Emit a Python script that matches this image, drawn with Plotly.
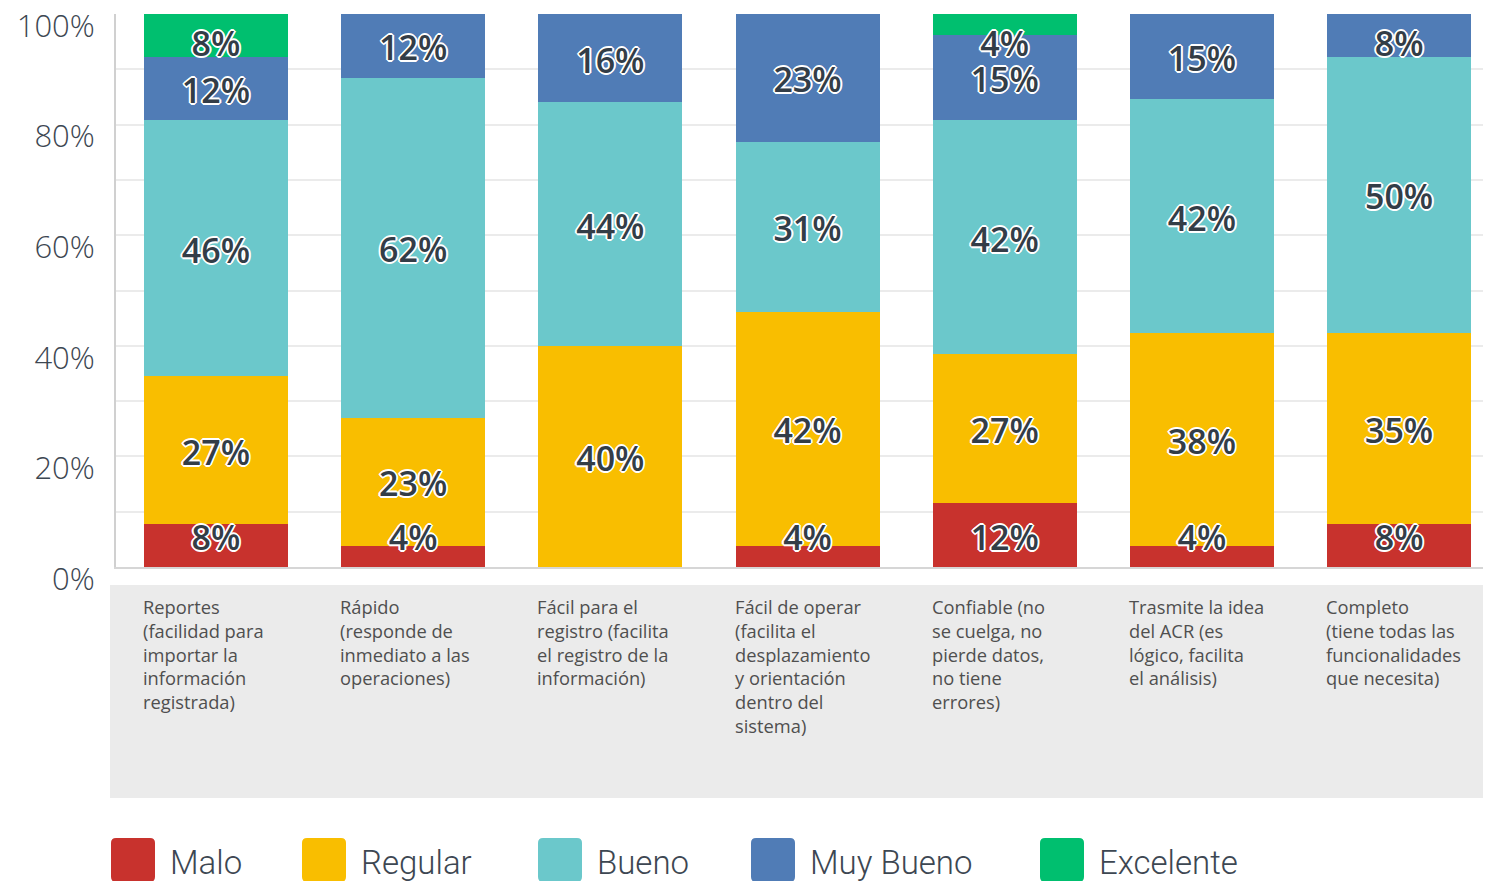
import plotly.graph_objects as go

# ---------------- data ----------------
category_lines = [
    ["Reportes", "(facilidad para", "importar la", "información", "registrada)"],
    ["Rápido", "(responde de", "inmediato a las", "operaciones)"],
    ["Fácil para el", "registro (facilita", "el registro de la", "información)"],
    ["Fácil de operar", "(facilita el", "desplazamiento", "y orientación", "dentro del", "sistema)"],
    ["Confiable (no", "se cuelga, no", "pierde datos,", "no tiene", "errores)"],
    ["Trasmite la idea", "del ACR (es", "lógico, facilita", "el análisis)"],
    ["Completo", "(tiene todas las", "funcionalidades", "que necesita)"],
]
categories = [" ".join(l) for l in category_lines]

series_names = ["Malo", "Regular", "Bueno", "Muy Bueno", "Excelente"]
malo = [7.69, 3.85, 0, 3.85, 11.54, 3.85, 7.69]
regular = [26.92, 23.08, 40, 42.31, 26.92, 38.46, 34.62]
bueno = [46.15, 61.54, 44, 30.77, 42.31, 42.31, 50]
muy_bueno = [11.54, 11.54, 16, 23.08, 15.38, 15.38, 7.69]
excelente = [7.69, 0, 0, 0, 3.85, 0, 0]
series_values = [malo, regular, bueno, muy_bueno, excelente]

y_tick_vals = [0, 20, 40, 60, 80, 100]
y_tick_text = ["0%", "20%", "40%", "60%", "80%", "100%"]

# ---------------- style ----------------
colors = ["#C8322D", "#F9BE00", "#6BC8CB", "#507CB6", "#00BF6F"]
OFF = 8  # page body margin
W, H = 1491 - OFF, 881 - OFF
PL, PR, PT, PB = 116 - OFF, 1491 - OFF, 14 - OFF, 567 - OFF
LABEL_DROP = 1.085          # labels sit slightly below segment centre (in % units)
LABEL_LO, LABEL_HI = 4.7, 94.0  # labels kept inside the plot


def pxp(x):  # page pixel x -> paper
    return (x - OFF - PL) / (PR - PL)


def pyp(y):  # page pixel y -> paper
    return (PB - (y - OFF)) / (PB - PT)


shadow = ("white 1px 1px 0px, white -1px -1px 0px, white 1px -1px 0px, white -1px 1px 0px, "
          "white 0px 2px 0px, white 0px -2px 0px, white 2px 0px 0px, white -2px 0px 0px")

fig = go.Figure()
base = [0.0] * len(categories)
label_traces = []
for name, vals, col in zip(series_names, series_values, colors):
    fig.add_trace(go.Bar(
        x=categories, y=vals, name=name, marker=dict(color=col, line=dict(width=0)),
        hoverinfo="skip", showlegend=False,
    ))
    mids = [min(max(b + v / 2 - LABEL_DROP, LABEL_LO), LABEL_HI) for b, v in zip(base, vals)]
    txt = [f"{round(v)}%" if v > 0 else "" for v in vals]
    label_traces.append(go.Scatter(
        x=categories, y=mids, text=txt, mode="text", textposition="middle center",
        textfont=dict(family="Open Sans", size=34, color="#333d47", weight=600, shadow=shadow),
        hoverinfo="skip", showlegend=False, cliponaxis=False,
    ))
    base = [b + v for b, v in zip(base, vals)]
for t in label_traces:
    fig.add_trace(t)

bar_frac = 0.73
shapes = []
annotations = []

# category label background
shapes.append(dict(type="rect", xref="paper", yref="paper", x0=pxp(110), x1=1.0,
                   y0=pyp(798), y1=pyp(585), fillcolor="#EBEBEB", line=dict(width=0), layer="below"))

for i, lines in enumerate(category_lines):
    annotations.append(dict(
        x=i - bar_frac / 2, xref="x", xanchor="left", xshift=-3, y=pyp(592), yref="paper", yanchor="top",
        text="<br>".join(lines), align="left", showarrow=False,
        font=dict(family="Open Sans", size=18.3, color="#4f4f4f"),
    ))

# legend (drawn manually for large swatches)
legend_x = [111, 302, 538, 751, 1040]
sq = 44
r = 5
for name, col, lx in zip(series_names, colors, legend_x):
    x0, x1 = pxp(lx), pxp(lx + sq)
    y0, y1 = pyp(838 + sq), pyp(838)
    rx, ry = r / (PR - PL), r / (PB - PT)
    path = (f"M{x0+rx},{y1} L{x1-rx},{y1} Q{x1},{y1} {x1},{y1-ry} L{x1},{y0+ry} "
            f"Q{x1},{y0} {x1-rx},{y0} L{x0+rx},{y0} Q{x0},{y0} {x0},{y0+ry} "
            f"L{x0},{y1-ry} Q{x0},{y1} {x0+rx},{y1} Z")
    shapes.append(dict(type="path", xref="paper", yref="paper", path=path,
                       fillcolor=col, line=dict(width=0)))
    annotations.append(dict(
        x=pxp(lx + sq + 13), xref="paper", xanchor="left", y=pyp(862), yref="paper", yanchor="middle",
        text=name, showarrow=False, font=dict(family="Roboto", size=33, color="#3d4752", weight=300),
    ))

fig.update_layout(
    width=W, height=H,
    margin=dict(l=PL, r=W - PR, t=PT, b=H - PB, pad=0),
    barmode="stack", bargap=1 - bar_frac,
    plot_bgcolor="white", paper_bgcolor="white",
    shapes=shapes, annotations=annotations,
    showlegend=False,
    xaxis=dict(range=[-0.507, 6.466], showticklabels=False, showgrid=False, zeroline=False,
               showline=True, linecolor="#D6D6D6", linewidth=2, ticks="", automargin=False),
    yaxis=dict(range=[0, 100], tickvals=y_tick_vals, ticktext=y_tick_text, showgrid=True,
               gridcolor="#EBEBEB", gridwidth=2, zeroline=False, showline=True,
               linecolor="#D0D0D0", linewidth=2, ticks="", automargin=False,
               minor=dict(dtick=10, showgrid=True, gridcolor="#EBEBEB", gridwidth=2),
               tickfont=dict(family="Open Sans", size=31, color="#3d4752", weight=300),
               ticklabelshift=12, ticklabelstandoff=13, ticklabeloverflow="allow"),
)

fig.write_html("out.html")
